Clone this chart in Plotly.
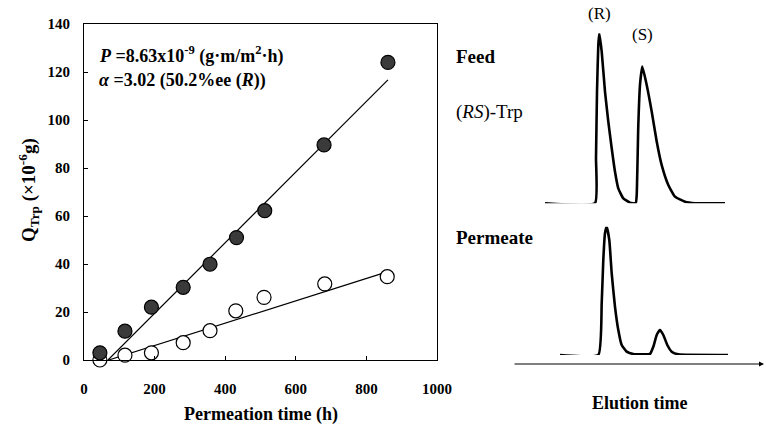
import plotly.graph_objects as go

W, H = 766, 428

# ---- Left panel data: permeated amount vs time ----
time_h = [45, 116, 191, 281, 357, 432, 512, 680, 861]
q_filled = [3.0, 12.0, 22.0, 30.3, 39.9, 51.0, 62.2, 89.6, 124.0]   # (R)-Trp
time_open = [45, 116, 191, 281, 357, 430, 510, 682, 859]
q_open = [0.0, 2.0, 3.0, 7.2, 12.2, 20.5, 26.1, 31.7, 34.7]         # (S)-Trp

fit_x = [68, 861]
fit_filled = [0.0, 116.7]
fit_open_x = [70, 861]
fit_open = [0.0, 36.8]

x_ticks = [0, 200, 400, 600, 800, 1000]
y_ticks = [0, 20, 40, 60, 80, 100, 120, 140]

# ---- Right panel data: chromatograms (elution time in arbitrary units, signal %) ----
feed_t = [32, 82, 83, 84, 85.3, 86.3, 88.7, 92, 95.3, 98.7, 102, 105.3, 110.3, 117, 122.7,
          123.7, 125.3, 127, 129.3, 133.7, 138.7, 143.7, 148.7, 155.3, 162, 172, 182, 212]
feed_sig = [0, 0, 26.6, 65.5, 93.1, 100, 89.2, 65.7, 48.1, 32.4, 18.6, 8.8, 2.9, 0.4, 0,
            4.9, 45.8, 69.6, 80.4, 69.6, 54.0, 36.4, 22.5, 10.8, 3.9, 0.9, 0, 0]
perm_t = [47, 85.3, 88.7, 90.3, 92, 93.7, 96.3, 98.7, 102, 105.3, 108.7, 113.7, 120.3, 137,
          140.3, 143.7, 147, 150.3, 154.3, 158.7, 165.3, 215]
perm_sig = [0, 0, 40.3, 74.1, 94.9, 100, 89.6, 63.6, 37.6, 19.5, 7.8, 2.6, 0.8, 0.8,
            6.4, 15.6, 19.5, 15.6, 7.8, 2.6, 0.5, 0]

SERIF = "Liberation Serif"


def px_x(p):
    return p / W


def px_y(p):
    return 1 - p / H


fig = go.Figure()

# fit lines
fig.add_trace(go.Scatter(x=fit_x, y=fit_filled, mode="lines",
                         line=dict(color="black", width=1.2), showlegend=False))
fig.add_trace(go.Scatter(x=fit_open_x, y=fit_open, mode="lines",
                         line=dict(color="black", width=1.2), showlegend=False))
# markers
fig.add_trace(go.Scatter(x=time_open, y=q_open, mode="markers", cliponaxis=False,
                         marker=dict(size=14, color="white",
                                     line=dict(color="black", width=1.2)),
                         showlegend=False))
fig.add_trace(go.Scatter(x=time_h, y=q_filled, mode="markers", cliponaxis=False,
                         marker=dict(size=14, color="#3a3a3a",
                                     line=dict(color="black", width=1.2)),
                         showlegend=False))

# chromatograms
fig.add_trace(go.Scatter(x=feed_t, y=feed_sig, mode="lines", xaxis="x2", yaxis="y2",
                         line=dict(color="black", width=2.6, shape="spline", smoothing=0.4),
                         cliponaxis=False, showlegend=False))
fig.add_trace(go.Scatter(x=perm_t, y=perm_sig, mode="lines", xaxis="x2", yaxis="y3",
                         line=dict(color="black", width=2.6, shape="spline", smoothing=0.4),
                         cliponaxis=False, showlegend=False))

tickfont = dict(family=SERIF, size=15, color="black", weight="bold")

fig.update_layout(
    width=W, height=H, autosize=False,
    margin=dict(l=0, r=0, t=0, b=0),
    paper_bgcolor="white", plot_bgcolor="white",
    xaxis=dict(domain=[px_x(84), px_x(437)], range=[0, 1000], tickvals=x_ticks,
               ticks="inside", ticklen=4, tickcolor="black", showgrid=False, zeroline=False,
               showline=True, linecolor="black", linewidth=1, mirror=True, automargin=False,
               tickfont=tickfont, ticklabelstandoff=15, anchor="y"),
    yaxis=dict(domain=[px_y(360), px_y(24)], range=[0, 140], tickvals=y_ticks,
               ticks="inside", ticklen=4, tickcolor="black", showgrid=False, zeroline=False,
               showline=True, linecolor="black", linewidth=1, mirror=True, automargin=False,
               tickfont=tickfont, ticklabelstandoff=10, anchor="x"),
    xaxis2=dict(domain=[px_x(513), px_x(763)], range=[0, 250], visible=False, anchor="y2",
                automargin=False),
    yaxis2=dict(domain=[px_y(203.3), px_y(33.3)], range=[0, 100], visible=False, anchor="x2",
                automargin=False),
    yaxis3=dict(domain=[px_y(355), px_y(226.7)], range=[0, 100], visible=False, anchor="x2",
                automargin=False),
)


def label(text, x, y, size=15, xanchor="center", angle=0):
    return dict(text=text, x=px_x(x), y=px_y(y), xref="paper", yref="paper",
                showarrow=False, xanchor=xanchor, yanchor="middle", textangle=angle,
                font=dict(family=SERIF, size=size, color="black"))


ann = [
    label("<b>Permeation time (h)</b>", 261, 414, 18),
    label("<b>Q<sub>Trp</sub> (×10<sup>-6</sup>g)</b>", 28, 190, 19, angle=-90),
    label("<b><i>P</i> =8.63x10<sup>-9</sup> (g·m/m<sup>2</sup>·h)</b>", 97, 55, 18, "left"),
    label("<b><i>α</i> =3.02 (50.2%ee (<i>R</i>))</b>", 97, 81, 18, "left"),
    label("<b>Feed</b>", 454, 56, 19, "left"),
    label("(<i>RS</i>)-Trp", 454, 112, 19, "left"),
    label("<b>Permeate</b>", 454, 237, 19, "left"),
    label("<b>Elution time</b>", 640, 403, 18),
    label("(R)", 599, 14, 17),
    label("(S)", 642, 35, 17),
    # elution-time axis arrow
    dict(text="", x=px_x(764), y=px_y(364), xref="paper", yref="paper",
         ax=-251, ay=0, showarrow=True, arrowhead=2, arrowsize=1, arrowwidth=1,
         arrowcolor="black"),
]
fig.update_layout(annotations=ann)

fig.write_html("out.html", config={"displayModeBar": False},
               post_script="document.body.style.margin='0px';document.body.style.padding='0px';")
